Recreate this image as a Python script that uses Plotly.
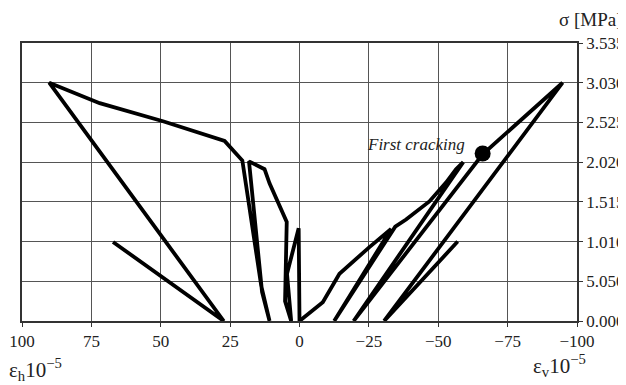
import plotly.graph_objects as go

# Horizontal strain (left half, positive values) - cyclic loading path
eps_h = [0.0, 0.3, 4.5, 3.0, 5.2, 5.0, 4.6, 10.8, 12.6, 18.2, 13.5, 10.8,
         13.8, 20.6, 27.0, 49.2, 72.0, 90.2, 27.3, 67.2]
sig_h = [0.0, 1.18, 0.60, 0.0, 0.25, 0.65, 1.26, 1.75, 1.93, 2.03, 0.37, 0.0,
         0.45, 2.04, 2.29, 2.54, 2.77, 3.03, 0.0, 1.005]

# Vertical strain (right half, negative values)
eps_v = [0.0, -8.4, -14.4, -20.4, -25.2, -33.0, -12.5, -34.5, -38.4, -46.8,
         -52.8, -56.4, -59.0, -19.5, -66.0, -94.8, -30.5, -57.0]
sig_v = [0.0, 0.24, 0.60, 0.79, 0.94, 1.17, 0.0, 1.20, 1.29, 1.52,
         1.76, 1.93, 2.02, 0.0, 2.12, 3.03, 0.0, 1.01]

crack_x = [-66.0]
crack_y = [2.13]

x_ticks = [100, 75, 50, 25, 0, -25, -50, -75, -100]
x_labels = ["100", "75", "50", "25", "0", "\u221225", "\u221250", "\u221275", "\u2212100"]
y_ticks = [0.0, 0.505, 1.010, 1.515, 2.020, 2.525, 3.030, 3.535]
y_labels = ["0.000", "5.050", "1.010", "1.515", "2.020", "2.525", "3.030", "3.535"]

serif = "'Liberation Serif', 'Times New Roman', serif"

fig = go.Figure()
fig.add_trace(go.Scatter(x=eps_h, y=sig_h, mode="lines",
                         line=dict(color="black", width=3.8), showlegend=False))
fig.add_trace(go.Scatter(x=eps_v, y=sig_v, mode="lines",
                         line=dict(color="black", width=3.8), showlegend=False))
fig.add_trace(go.Scatter(x=crack_x, y=crack_y, mode="markers",
                         marker=dict(color="black", size=16), showlegend=False))

# page has an 8px body margin, so the figure is 8px smaller on each axis
fig.update_layout(
    width=618, height=377,
    margin=dict(l=14, r=49, t=35, b=64, autoexpand=False),
    paper_bgcolor="white", plot_bgcolor="white",
    font=dict(family=serif, size=14, color="#222"),
    xaxis=dict(range=[100, -100], tickvals=x_ticks, ticktext=x_labels,
               showgrid=True, gridcolor="#555", gridwidth=1.2, automargin=False,
               showline=True, linecolor="#333", linewidth=1.5, mirror=True,
               ticks="outside", ticklen=4, tickcolor="#333", zeroline=False,
               tickfont=dict(family=serif, size=17, color="#222")),
    yaxis=dict(range=[0, 3.535], tickvals=y_ticks, ticktext=y_labels,
               side="right", automargin=False,
               showgrid=True, gridcolor="#555", gridwidth=1.2,
               showline=True, linecolor="#333", linewidth=1.5, mirror=True,
               ticks="outside", ticklen=4, tickcolor="#333", zeroline=False,
               tickfont=dict(family=serif, size=17, color="#222")),
)

fig.add_annotation(x=-60.5, y=2.25, xref="x", yref="y", text="<i>First cracking</i>",
                   showarrow=False, xanchor="right", yanchor="middle",
                   font=dict(family=serif, size=17, color="#222"))
fig.add_annotation(x=1.086, y=1.083, xref="paper", yref="paper", text="\u03c3 [MPa]",
                   showarrow=False, xanchor="right", yanchor="middle",
                   font=dict(family=serif, size=19, color="#222"))
fig.add_annotation(x=-0.027, y=-0.175, xref="paper", yref="paper",
                   text="\u03b5<sub>h</sub>10<sup>\u22125</sup>",
                   showarrow=False, xanchor="left", yanchor="middle",
                   font=dict(family=serif, size=21, color="#222"))
fig.add_annotation(x=0.918, y=-0.16, xref="paper", yref="paper",
                   text="\u03b5<sub>v</sub>10<sup>\u22125</sup>",
                   showarrow=False, xanchor="left", yanchor="middle",
                   font=dict(family=serif, size=21, color="#222"))

fig.write_html("out.html")
